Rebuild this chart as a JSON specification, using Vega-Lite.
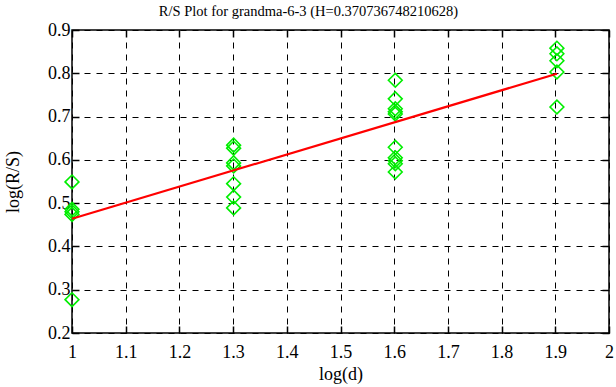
{
  "$schema": "https://vega.github.io/schema/vega-lite/v6.json",
  "width": 537,
  "height": 303,
  "autosize": {"type": "none"},
  "padding": {"left": 72, "top": 30, "right": 7, "bottom": 54},
  "background": "white",
  "title": {"text": "R/S Plot for grandma-6-3 (H=0.370736748210628)", "font": "Liberation Serif", "fontSize": 14.5, "fontWeight": "normal", "color": "black", "offset": 9, "dx": -32, "dy": 7},
  "config": {
    "view": {"stroke": "black", "strokeWidth": 1.5},
    "axis": {"labelFont": "Liberation Serif", "titleFont": "Liberation Serif", "labelFontSize": 18, "titleFontSize": 18, "titleFontWeight": "normal", "labelColor": "black", "titleColor": "black", "domain": false, "tickColor": "black", "tickSize": -7, "tickWidth": 1.5, "gridColor": "black", "gridDash": [6, 6], "gridWidth": 1, "gridOpacity": 1}
  },
  "datasets": {
    "pts": [
      {"x": 1, "y": 0.549}, {"x": 1, "y": 0.486}, {"x": 1, "y": 0.480}, {"x": 1, "y": 0.474}, {"x": 1, "y": 0.277},
      {"x": 1.301, "y": 0.634}, {"x": 1.301, "y": 0.627}, {"x": 1.301, "y": 0.593}, {"x": 1.301, "y": 0.586}, {"x": 1.301, "y": 0.545}, {"x": 1.301, "y": 0.514}, {"x": 1.301, "y": 0.489},
      {"x": 1.602, "y": 0.784}, {"x": 1.602, "y": 0.741}, {"x": 1.602, "y": 0.718}, {"x": 1.602, "y": 0.711}, {"x": 1.602, "y": 0.706}, {"x": 1.602, "y": 0.629}, {"x": 1.602, "y": 0.605}, {"x": 1.602, "y": 0.598}, {"x": 1.602, "y": 0.591}, {"x": 1.602, "y": 0.572},
      {"x": 1.903, "y": 0.858}, {"x": 1.903, "y": 0.845}, {"x": 1.903, "y": 0.829}, {"x": 1.903, "y": 0.803}, {"x": 1.903, "y": 0.722}
    ],
    "fit": [
      {"x": 1, "y": 0.464}, {"x": 1.903, "y": 0.799}
    ]
  },
  "layer": [
    {
      "data": {"name": "pts"},
      "mark": {"type": "point", "shape": "diamond", "size": 190, "filled": false, "stroke": "#00ee00", "strokeWidth": 1.6, "opacity": 1},
      "encoding": {
        "x": {"field": "x", "type": "quantitative", "scale": {"domain": [1, 2], "nice": false, "zero": false},
          "axis": {"orient": "bottom", "title": "log(d)", "values": [1, 1.1, 1.2, 1.3, 1.4, 1.5, 1.6, 1.7, 1.8, 1.9, 2], "format": "~g", "labelPadding": 17, "titlePadding": 4, "labelFlush": false}},
        "y": {"field": "y", "type": "quantitative", "scale": {"domain": [0.2, 0.9], "nice": false, "zero": false},
          "axis": {"orient": "left", "title": "log(R/S)", "values": [0.2, 0.3, 0.4, 0.5, 0.6, 0.7, 0.8, 0.9], "format": ".1f", "labelPadding": 9, "titlePadding": 25, "labelFlush": false}}
      }
    },
    {
      "data": {"name": "fit"},
      "mark": {"type": "line", "color": "#ff0000", "strokeWidth": 2.2},
      "encoding": {
        "x": {"field": "x", "type": "quantitative", "scale": {"domain": [1, 2], "nice": false, "zero": false},
          "axis": {"orient": "top", "title": null, "labels": false, "grid": false, "values": [1, 1.1, 1.2, 1.3, 1.4, 1.5, 1.6, 1.7, 1.8, 1.9, 2]}},
        "y": {"field": "y", "type": "quantitative", "scale": {"domain": [0.2, 0.9], "nice": false, "zero": false},
          "axis": {"orient": "right", "title": null, "labels": false, "grid": false, "values": [0.2, 0.3, 0.4, 0.5, 0.6, 0.7, 0.8, 0.9]}}
      }
    }
  ],
  "resolve": {"axis": {"x": "independent", "y": "independent"}}
}
